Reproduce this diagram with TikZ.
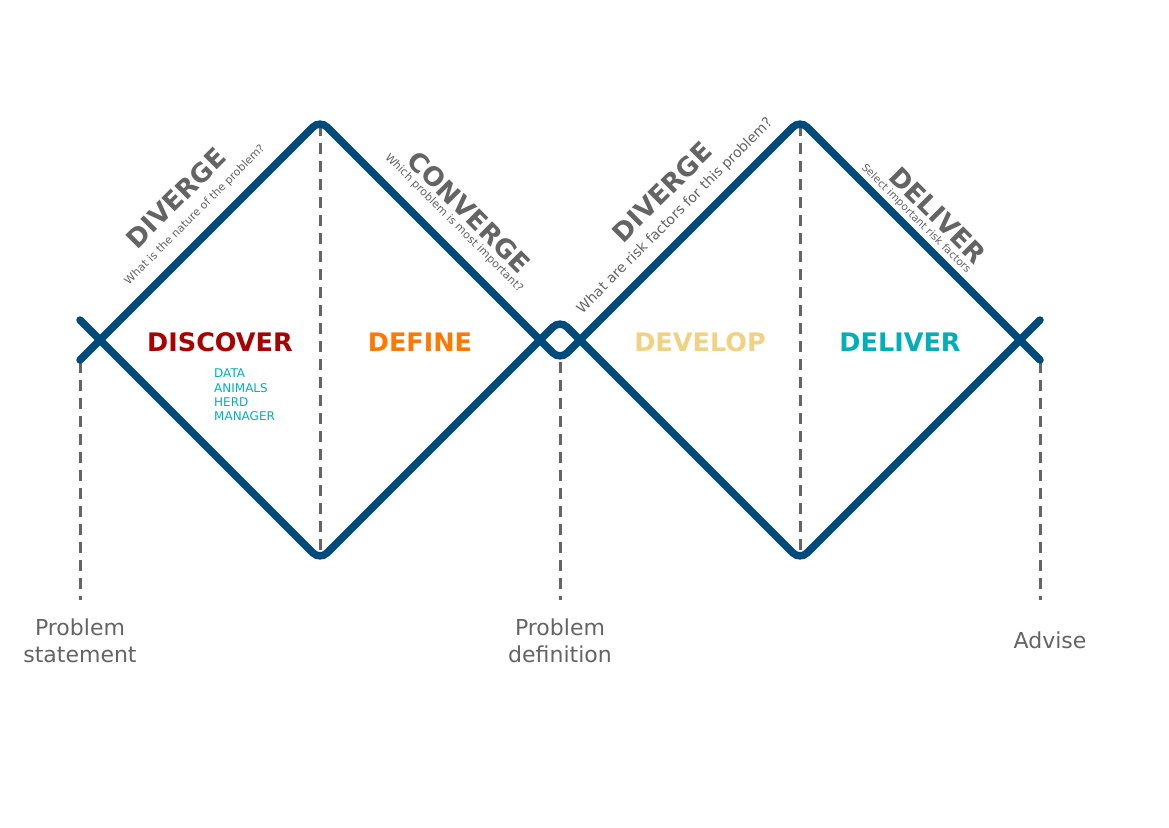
\documentclass[tikz,border=0pt]{standalone}
\usepackage{fontspec}
\setmainfont{DejaVu Sans}
\definecolor{dblue}{RGB}{0,74,124}
\definecolor{dgray}{RGB}{100,100,100}
\definecolor{discred}{RGB}{170,0,0}
\definecolor{defor}{RGB}{255,120,0}
\definecolor{devyel}{RGB}{240,210,130}
\definecolor{delteal}{RGB}{0,175,185}
\tikzset{
  zigzag/.style={draw=dblue,line width=7.5pt,line cap=round,rounded corners=10pt},
  divider/.style={draw=dgray,line width=3pt,dash pattern=on 11pt off 7pt},
  phase/.style={font=\fontsize{25.5}{30}\selectfont\bfseries},
  stage/.style={font=\fontsize{26}{31}\selectfont\bfseries,text=dgray},
  question/.style={font=\fontsize{11}{13}\selectfont,text=dgray},
  milestone/.style={font=\fontsize{22}{27}\selectfont,text=dgray,align=center}
}
\begin{document}
\begin{tikzpicture}[x=1pt,y=-1pt]
      \useasboundingbox (0,0) rectangle (1169,827);
      %% the dashed dividers
      \foreach \x/\ya/\yb in {80/362/600,320/125/555,560/362/600,800/125/555,1040/362/600}
        \draw[divider] (\x,\ya) -- (\x,\yb);
      %% the two diamonds
      \draw[zigzag] (80,320) -- (320,560) -- (560,320) -- (800,560) -- (1040,320);
      \draw[zigzag] (80,360) -- (320,120) -- (560,360) -- (800,120) -- (1040,360);
      %% phases
      \node[phase,text=discred] (discover) at (220,342) {DISCOVER};
      \node[phase,text=defor] (define) at (420,342) {DEFINE};
      \node[phase,text=devyel] (develop) at (700,342) {DEVELOP};
      \node[phase,text=delteal] (deliver) at (900,342) {DELIVER};
      \node[anchor=north west,inner sep=0pt,align=left,text=delteal,
            font=\fontsize{12}{14.2}\selectfont] (sources) at (214,369)
            {DATA\\ANIMALS\\HERD\\MANAGER};
      %% diagonal labels
      \node[stage,rotate=45] (diverge1) at (176,198) {DIVERGE};
      \node[question,rotate=45] (diverge1q) at (195,215) {What is the nature of the problem?};
      \node[stage,rotate=-45] (converge) at (469,212) {CONVERGE};
      \node[question,rotate=-45] (convergeq) at (454,223) {Which problem is most important?};
      \node[stage,rotate=45] (diverge2) at (662,192) {DIVERGE};
      \node[question,rotate=45,font=\fontsize{14}{16}\selectfont] (diverge2q) at (675,216) {What are risk factors for this problem?};
      \node[stage,rotate=-45] (delivers) at (938,215) {DELIVER};
      \node[question,rotate=-45,font=\fontsize{10.5}{12}\selectfont] (deliversq) at (916,219) {Select important risk factors};
      %% milestones
      \node[milestone] (statement) at (80,641) {Problem\\statement};
      \node[milestone] (definition) at (560,641) {Problem\\definition};
      \node[milestone] (advise) at (1050,640) {Advise};
\end{tikzpicture}
\end{document}
